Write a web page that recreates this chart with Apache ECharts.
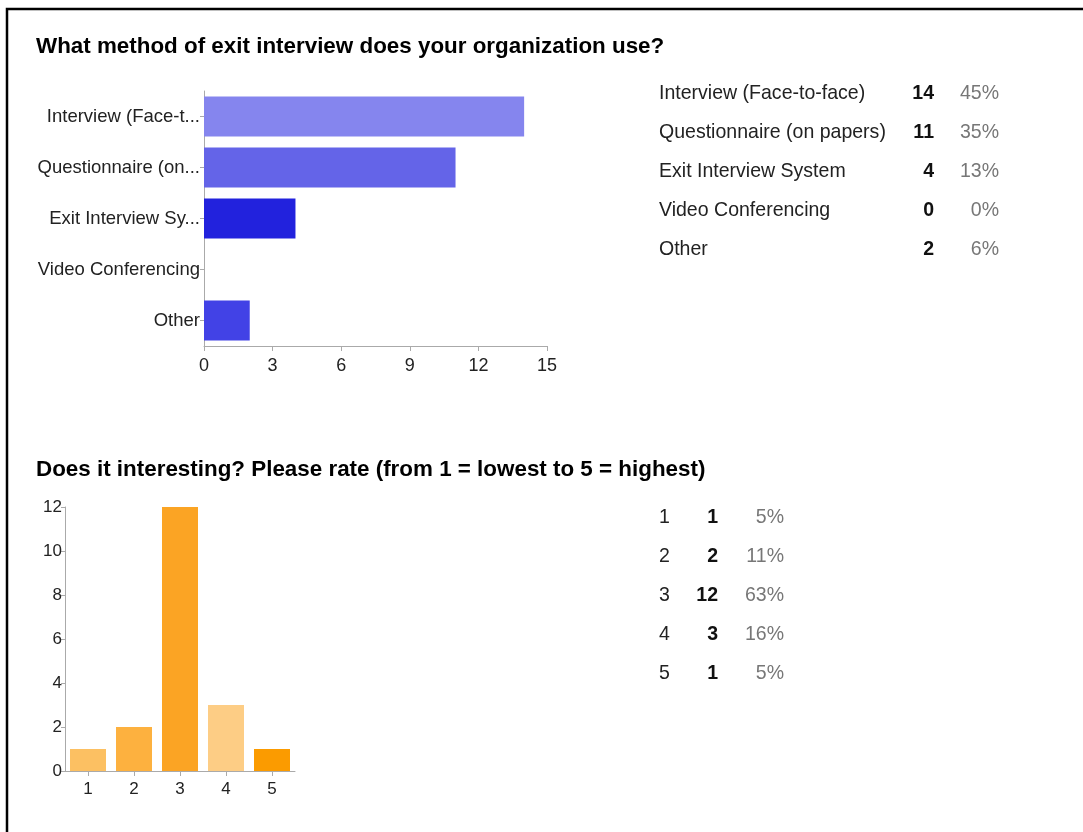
<!DOCTYPE html>
<html>
<head>
<meta charset="utf-8">
<script src="https://cdn.jsdelivr.net/npm/echarts@6/dist/echarts.min.js"></script>
<style>
html,body{margin:0;padding:0;background:#fff;}
#main{width:1083px;height:832px;}
</style>
</head>
<body>
<div id="main"></div>
<script>
const q1Title = 'What method of exit interview does your organization use?';
const q1AxisLabels = ['Interview (Face-t...', 'Questionnaire (on...', 'Exit Interview Sy...', 'Video Conferencing', 'Other'];
const q1Options = ['Interview (Face-to-face)', 'Questionnaire (on papers)', 'Exit Interview System', 'Video Conferencing', 'Other'];
const q1Counts = [14, 11, 4, 0, 2];
const q1Percents = ['45%', '35%', '13%', '0%', '6%'];
const q1Colors = ['#8585ee', '#6464e8', '#2222dd', '#5555ea', '#4242e6'];
const q1Max = 15, q1Step = 3;

const q2Title = 'Does it interesting? Please rate (from 1 = lowest to 5 = highest)';
const q2Categories = ['1', '2', '3', '4', '5'];
const q2Counts = [1, 2, 12, 3, 1];
const q2Percents = ['5%', '11%', '63%', '16%', '5%'];
const q2Colors = ['#fcc062', '#fdb13f', '#fba424', '#fdcd85', '#fb9b00'];
const q2Max = 12, q2Step = 2;

const FONT = '"Liberation Sans", Arial, sans-serif';
const AXIS_COLOR = '#aaaaaa';
const TEXT_COLOR = '#222222';

const chart = echarts.init(document.getElementById('main'), null, {renderer: 'canvas'});

function tableGraphics(labels, counts, percents, x0, xCount, xPct, y0, dy) {
  const g = [];
  const sx = 0.93;
  labels.forEach((lab, i) => {
    const y = y0 + i * dy;
    g.push({type: 'text', x: x0, y: y, scaleX: sx, style: {text: lab, font: '21px ' + FONT, fill: '#222', textVerticalAlign: 'middle', textAlign: 'left'}});
    g.push({type: 'text', x: xCount, y: y, scaleX: sx, style: {text: String(counts[i]), font: 'bold 21px ' + FONT, fill: '#111', textVerticalAlign: 'middle', textAlign: 'right'}});
    g.push({type: 'text', x: xPct, y: y, scaleX: sx, style: {text: percents[i], font: '21px ' + FONT, fill: '#777', textVerticalAlign: 'middle', textAlign: 'right'}});
  });
  return g;
}

const graphics = [
  {type: 'polyline', shape: {points: [[7, 840], [7, 9], [1090, 9]]}, style: {stroke: '#000', lineWidth: 2.5, fill: null}},
  {type: 'text', x: 36, y: 47, style: {text: q1Title, font: 'bold 22.4px ' + FONT, fill: '#000', textVerticalAlign: 'middle'}},
  {type: 'text', x: 36, y: 470, style: {text: q2Title, font: 'bold 22.4px ' + FONT, fill: '#000', textVerticalAlign: 'middle'}}
].concat(
  tableGraphics(q1Options, q1Counts, q1Percents, 659, 934, 999, 93, 39),
  tableGraphics(q2Categories, q2Counts, q2Percents, 659, 718, 784, 517, 39)
);

const option = {
  animation: false,
  backgroundColor: '#fff',
  grid: [
    {left: 204, top: 91, width: 343, height: 255},
    {left: 65, top: 507, width: 230, height: 264}
  ],
  xAxis: [
    {
      gridIndex: 0, type: 'value', min: 0, max: q1Max, interval: q1Step,
      axisLine: {show: true, lineStyle: {color: AXIS_COLOR}},
      axisTick: {show: true, length: 5, lineStyle: {color: AXIS_COLOR}},
      splitLine: {show: false},
      axisLabel: {color: TEXT_COLOR, fontSize: 18, fontFamily: FONT, margin: 11}
    },
    {
      gridIndex: 1, type: 'category', data: q2Categories,
      axisLine: {show: true, lineStyle: {color: AXIS_COLOR}},
      axisTick: {show: true, alignWithLabel: true, length: 5, lineStyle: {color: AXIS_COLOR}},
      axisLabel: {color: TEXT_COLOR, fontSize: 17, fontFamily: FONT, margin: 10}
    }
  ],
  yAxis: [
    {
      gridIndex: 0, type: 'category', data: q1AxisLabels, inverse: true,
      axisLine: {show: true, lineStyle: {color: AXIS_COLOR}},
      axisTick: {show: true, alignWithLabel: true, length: 4, lineStyle: {color: AXIS_COLOR}},
      axisLabel: {color: TEXT_COLOR, fontSize: 18.5, fontFamily: FONT, margin: 4}
    },
    {
      gridIndex: 1, type: 'value', min: 0, max: q2Max, interval: q2Step,
      axisLine: {show: true, lineStyle: {color: AXIS_COLOR}},
      axisTick: {show: true, length: 4, lineStyle: {color: AXIS_COLOR}},
      splitLine: {show: false},
      axisLabel: {color: TEXT_COLOR, fontSize: 17, fontFamily: FONT, margin: 3}
    }
  ],
  series: [
    {
      type: 'bar', xAxisIndex: 0, yAxisIndex: 0, barWidth: 40,
      data: q1Counts.map((v, i) => ({value: v, itemStyle: {color: q1Colors[i]}}))
    },
    {
      type: 'bar', xAxisIndex: 1, yAxisIndex: 1, barWidth: 36,
      data: q2Counts.map((v, i) => ({value: v, itemStyle: {color: q2Colors[i]}}))
    }
  ],
  graphic: graphics
};
chart.setOption(option);
</script>
</body>
</html>
